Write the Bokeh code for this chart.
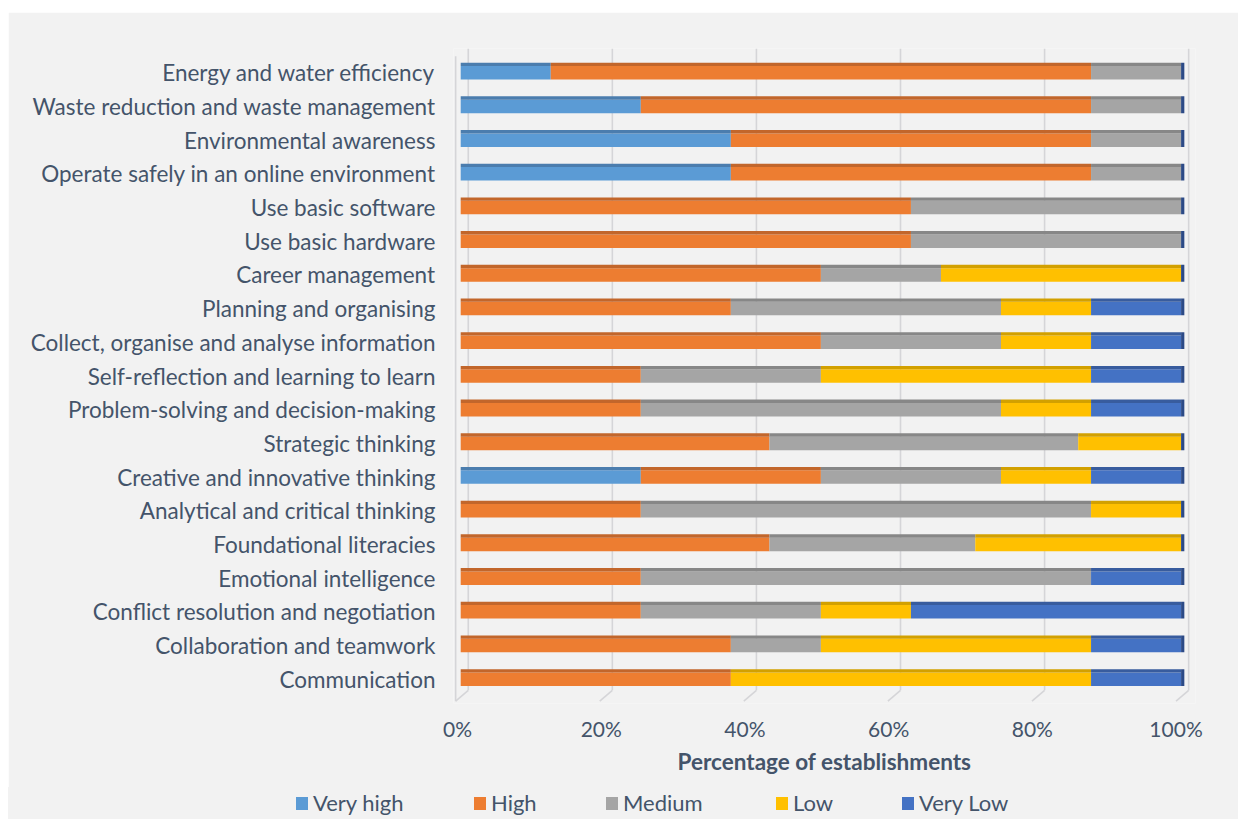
from bokeh.plotting import figure
from bokeh.models import Range1d, FixedTicker, ColumnDataSource, Spacer, Div, CustomJSTickFormatter
from bokeh.layouts import row, column
from bokeh.embed import file_html
from bokeh.resources import INLINE
import numpy as np

# ---------------- data (bottom row first) ----------------
categories = [
    "Communication",
    "Collaboration and teamwork",
    "Conflict resolution and negotiation",
    "Emotional intelligence",
    "Foundational literacies",
    "Analytical and critical thinking",
    "Creative and innovative thinking",
    "Strategic thinking",
    "Problem-solving and decision-making",
    "Self-reflection and learning to learn",
    "Collect, organise and analyse information",
    "Planning and organising",
    "Career management",
    "Use basic hardware",
    "Use basic software",
    "Operate safely in an online environment",
    "Environmental awareness",
    "Waste reduction and waste management",
    "Energy and water efficiency",
]
series_names = ["Very high", "High", "Medium", "Low", "Very Low"]
very_high = [0, 0, 0, 0, 0, 0, 25, 0, 0, 0, 0, 0, 0, 0, 0, 37.5, 37.5, 25, 12.5]
high = [37.5, 37.5, 25, 25, 42.86, 25, 25, 42.86, 25, 25, 50, 37.5, 50, 62.5, 62.5, 50, 50, 62.5, 75]
medium = [0, 12.5, 25, 62.5, 28.57, 62.5, 25, 42.86, 50, 25, 25, 37.5, 16.67, 37.5, 37.5, 12.5, 12.5, 12.5, 12.5]
low = [50, 37.5, 12.5, 0, 28.57, 12.5, 12.5, 14.28, 12.5, 37.5, 12.5, 12.5, 33.33, 0, 0, 0, 0, 0, 0]
very_low = [12.5, 12.5, 37.5, 12.5, 0, 0, 12.5, 0, 12.5, 12.5, 12.5, 12.5, 0, 0, 0, 0, 0, 0, 0]
x_ticks = [0, 20, 40, 60, 80, 100]
x_tick_labels = ["0%", "20%", "40%", "60%", "80%", "100%"]
x_title = "Percentage of establishments"

# ---------------- style ----------------
colors = ["#5B9BD5", "#ED7D31", "#A5A5A5", "#FFC000", "#4472C4"]
top_colors = ["#4B7DAE", "#C2662B", "#878787", "#D2A000", "#385C9E"]
cap_color = "#2C4A86"
text_color = "#44546A"
bg = "#F2F2F2"
font = "Lato"
grid_color = "#D5D5D8"
bar_h = 0.4
top_h = 0.1
legend_item_left = [288, 466, 598, 768, 894]   # legend layout (px from panel left)

p = figure(width=1230, height=775,
           x_range=Range1d(-1, 102), y_range=Range1d(-0.72, 18.72),
           output_backend="svg", toolbar_location=None,
           min_border_left=445, min_border_right=43,
           min_border_top=36, min_border_bottom=84,
           background_fill_color=bg, border_fill_color=bg,
           outline_line_color=None)
p.xgrid.visible = False
p.ygrid.visible = False

# 3D-like back grid lines with short floor diagonals
yb_back = -0.33
yb_front = -0.65
gx_back = [t + 1.05 for t in x_ticks]
gx_front = [t - 0.7 for t in x_ticks]
p.segment(x0=gx_back, y0=[yb_back] * len(x_ticks), x1=gx_back,
          y1=[p.y_range.end] * len(x_ticks), line_color=grid_color, line_width=1.6)
p.segment(x0=gx_front, y0=[yb_front] * len(x_ticks), x1=gx_back,
          y1=[yb_back] * len(x_ticks), line_color=grid_color, line_width=1.6)
p.segment(x0=[gx_front[0]], y0=[yb_front], x1=[gx_front[0]], y1=[18.49],
          line_color=grid_color, line_width=1.6)

# stacked bars
ys = np.arange(len(categories))
series = [very_high, high, medium, low, very_low]
cum = np.zeros(len(categories))
for name, vals, c, tc in zip(series_names, series, colors, top_colors):
    v = np.array(vals, dtype=float)
    src = ColumnDataSource(dict(y=ys, left=cum.copy(), right=cum + v,
                                top0=ys + bar_h / 2, top1=ys + bar_h / 2 + top_h))
    p.hbar(y="y", left="left", right="right", height=bar_h, source=src,
           fill_color=c, line_color=None)
    p.quad(left="left", right="right", bottom="top0", top="top1", source=src,
           fill_color=tc, line_color=None)
    cum = cum + v

# right end caps
p.quad(left=cum, right=cum + 0.45, bottom=ys - bar_h / 2, top=ys + bar_h / 2 + top_h,
       fill_color=cap_color, line_color=None)

# axes
p.yaxis.ticker = FixedTicker(ticks=list(ys))
p.yaxis.major_label_overrides = {int(i): c for i, c in zip(ys, categories)}
p.yaxis.major_label_text_font = font
p.yaxis.major_label_text_font_size = "22.5px"
p.yaxis.major_label_text_color = text_color
p.yaxis.major_label_standoff = 12
p.yaxis.axis_line_color = None
p.yaxis.major_tick_line_color = None
p.yaxis.minor_tick_line_color = None

# tick labels sit at the front edge of the 3D floor (slightly left of the bar scale)
p.xaxis.ticker = FixedTicker(ticks=[t - 0.44 - 0.0026 * t for t in x_ticks])
p.xaxis.formatter = CustomJSTickFormatter(
    args=dict(labels=x_tick_labels),
    code="return labels[Math.round(tick / 20)];")
p.xaxis.major_label_text_font = font
p.xaxis.major_label_text_font_size = "21px"
p.xaxis.major_label_text_color = text_color
p.xaxis.major_label_standoff = 6
p.xaxis.axis_line_color = None
p.xaxis.major_tick_line_color = None
p.xaxis.minor_tick_line_color = None
p.xaxis.axis_label = x_title
p.xaxis.axis_label_text_font = font
p.xaxis.axis_label_text_font_style = "bold"
p.xaxis.axis_label_text_font_size = "22.5px"
p.xaxis.axis_label_text_color = text_color
p.xaxis.axis_label_standoff = 4

# legend strip below the chart
items_html = "".join(
    f'<span style="position:absolute;left:{x}px;top:0;height:32px;display:flex;align-items:center;white-space:nowrap;">'
    f'<span style="display:inline-block;width:12px;height:13px;background:{c};margin-right:5px;"></span>{name}</span>'
    for x, name, c in zip(legend_item_left, series_names, colors))
legend_div = Div(
    text=(f'<div style="position:relative;width:1230px;height:32px;background:{bg};'
          f'font-family:Lato;font-size:22px;color:{text_color};">{items_html}</div>'),
    width=1230, height=32, margin=0)

layout = row(Spacer(width=8, height=10),
             column(Spacer(width=10, height=12), p, legend_div))
open("out.html", "w").write(file_html(layout, INLINE))
